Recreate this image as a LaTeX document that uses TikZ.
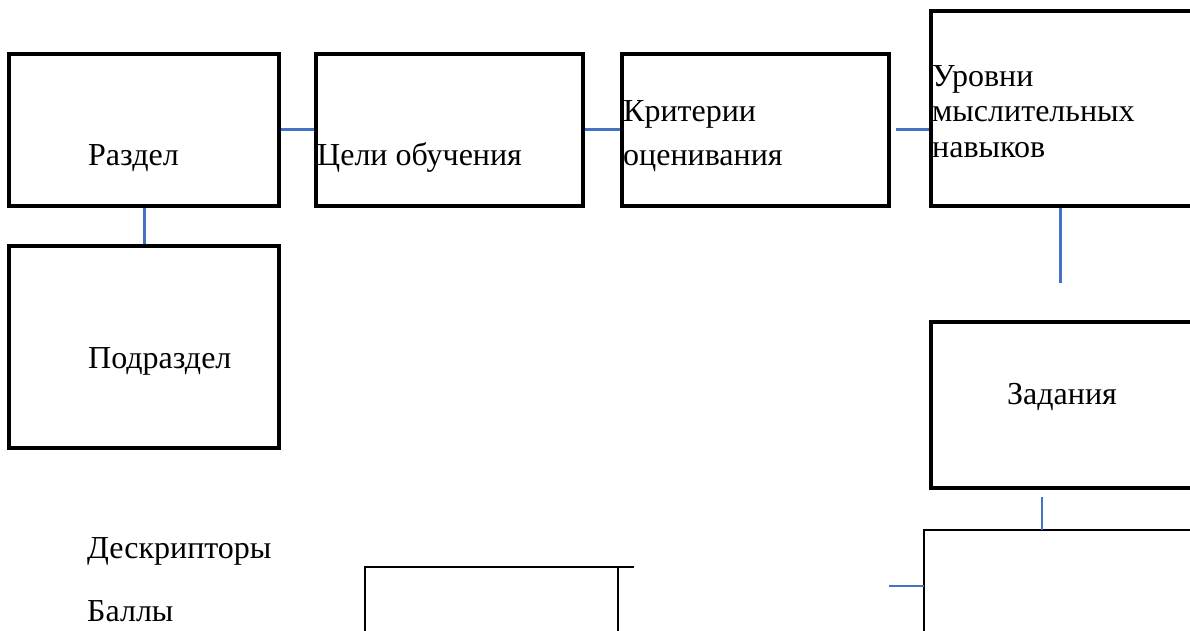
\documentclass[tikz,border=0pt]{standalone}
\usepackage{fontspec}
\setmainfont{Liberation Serif}
\definecolor{conn}{RGB}{68,114,196}
\tikzset{
  box/.style={draw=black, line width=3.5pt, rectangle, inner sep=0pt},
  thinbox/.style={draw=black, line width=1.6pt},
  link/.style={draw=conn, line width=3pt},
  thinlink/.style={draw=conn, line width=2pt},
  lbl/.style={anchor=base west, inner sep=0pt, font=\fontsize{32}{36}\selectfont},
}
\begin{document}
\begin{tikzpicture}[x=1pt,y=-1pt]
\clip (0,0) rectangle (1190,631);
\fill[white] (0,0) rectangle (1190,631);
% boxes
\node[box, minimum width=270pt, minimum height=152pt] (razdel) at (144,130) {};
\node[box, minimum width=267pt, minimum height=152pt] (celi) at (449.5,130) {};
\node[box, minimum width=267pt, minimum height=152pt] (krit) at (755.5,130) {};
\node[box, minimum width=262pt, minimum height=195pt] (urov) at (1062,108.5) {};
\node[box, minimum width=270pt, minimum height=202pt] (podr) at (144,347) {};
\node[box, minimum width=262pt, minimum height=166pt] (zad) at (1062,405) {};
% partial boxes at the bottom
\coordinate (bl) at (365,640);
\coordinate (bltop) at (365,567);
\coordinate (blend) at (634,567);
\coordinate (blr) at (618,567);
\coordinate (blrb) at (618,640);
\draw[thinbox] (bl) -- (bltop) -- (blend);
\draw[thinbox] (blr) -- (blrb);
\coordinate (brl) at (924,640);
\coordinate (brtop) at (924,530);
\coordinate (brend) at (1200,530);
\draw[thinbox] (brl) -- (brtop) -- (brend);
% labels
\node[lbl] (t1) at (88,166) {Раздел};
\node[lbl] (t2) at (317,166) {Цели обучения};
\node[lbl] (t3a) at (623,122) {Критерии};
\node[lbl] (t3b) at (623,166) {оценивания};
\node[lbl] (t4a) at (932,87) {Уровни};
\node[lbl] (t4b) at (932,122) {мыслительных};
\node[lbl] (t4c) at (932,158) {навыков};
\node[lbl] (t5) at (88,368) {Подраздел};
\node[lbl] (t6) at (1007,404) {Задания};
\node[lbl] (t7) at (87,558) {Дескрипторы};
\node[lbl] (t8) at (87,621) {Баллы};
% connectors
\draw[link] (razdel.east) -- (celi.west);
\draw[link] (celi.east) -- (krit.west);
\draw[link, shorten <=5pt] (krit.east) -- (krit.east -| urov.west);
\draw[link] (razdel.south) -- (podr.north);
\coordinate (urovdown) at (1060,283);
\draw[link] (urovdown |- urov.south) -- (urovdown);
\coordinate (zadfree) at (1042,497);
\draw[thinlink] (zadfree) -- (zadfree |- brtop);
\coordinate (brfree) at (889,586);
\draw[thinlink] (brfree) -- (brfree -| brtop);
\end{tikzpicture}
\end{document}
